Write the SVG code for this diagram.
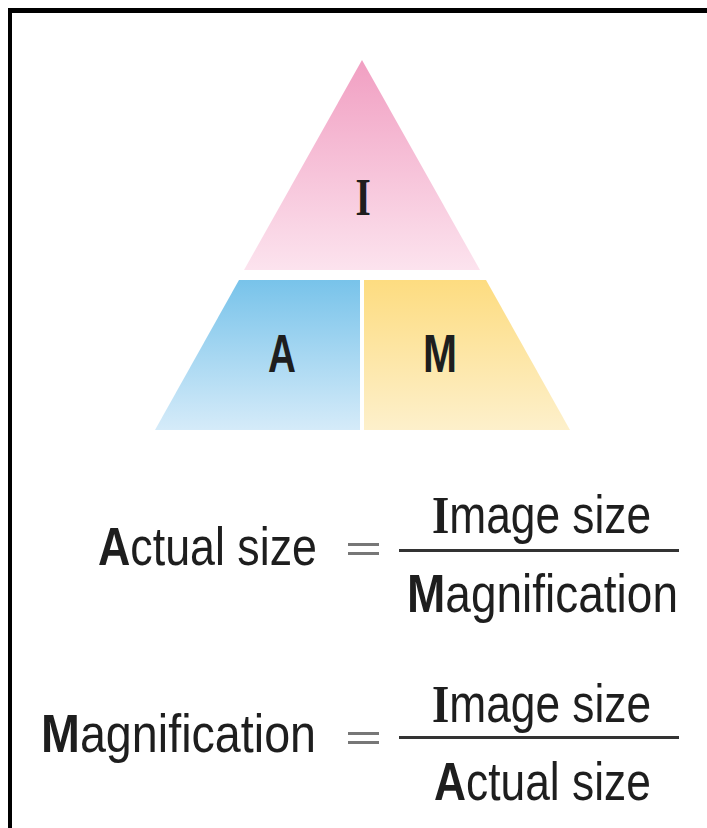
<svg xmlns="http://www.w3.org/2000/svg" width="707" height="828" viewBox="0 0 707 828">
<style>
.t{font-family:"Liberation Sans",Arial,sans-serif;font-size:53px;fill:#1e1e1e}
.b{font-weight:bold}
.s{font-family:"Liberation Serif","Times New Roman",serif;font-weight:bold}
.eq{fill:#777}
</style>
<defs>
<linearGradient id="gp" x1="0" y1="0" x2="0" y2="1"><stop offset="0" stop-color="#f19fc2"/><stop offset="1" stop-color="#fce3ee"/></linearGradient>
<linearGradient id="gb" x1="0" y1="0" x2="0" y2="1"><stop offset="0" stop-color="#78c3ea"/><stop offset="1" stop-color="#d5ebf9"/></linearGradient>
<linearGradient id="gy" x1="0" y1="0" x2="0" y2="1"><stop offset="0" stop-color="#fddc80"/><stop offset="1" stop-color="#fdf0cb"/></linearGradient>
</defs>
<rect width="707" height="828" fill="#fff"/>
<rect x="8" y="8" width="699" height="5" fill="#000"/>
<rect x="8" y="8" width="4" height="820" fill="#000"/>
<g id="node-I">
<polygon points="362,60 480,270 244,270" fill="url(#gp)"/>
<text class="t s" transform="translate(355.5,215) scale(0.74,1)" font-size="45">I</text>
</g>
<g id="node-A">
<polygon points="239,280 360,280 360,430 155,430" fill="url(#gb)"/>
<text class="t b" transform="translate(268,372) scale(0.73,1)">A</text>
</g>
<g id="node-M">
<polygon points="364,280 486,280 570,430 364,430" fill="url(#gy)"/>
<text class="t b" transform="translate(423,372) scale(0.77,1)">M</text>
</g>
<g id="formula-1">
<text class="t" transform="translate(98,565) scale(0.845,1)"><tspan class="b">A</tspan>ctual size</text>
<rect class="eq" x="348" y="543" width="31" height="3"/>
<rect class="eq" x="348" y="552" width="31" height="3"/>
<text class="t" transform="translate(432,533) scale(0.836,1)"><tspan class="s">I</tspan>mage size</text>
<rect x="399" y="549" width="280" height="3" fill="#333"/>
<text class="t" transform="translate(407,612) scale(0.868,1)"><tspan class="b">M</tspan>agnification</text>
</g>
<g id="formula-2">
<text class="t" transform="translate(41,752) scale(0.881,1)"><tspan class="b">M</tspan>agnification</text>
<rect class="eq" x="348" y="732" width="31" height="3"/>
<rect class="eq" x="348" y="741" width="31" height="3"/>
<text class="t" transform="translate(432,722) scale(0.836,1)"><tspan class="s">I</tspan>mage size</text>
<rect x="399" y="736" width="280" height="3" fill="#333"/>
<text class="t" transform="translate(434,800) scale(0.837,1)"><tspan class="b">A</tspan>ctual size</text>
</g>
</svg>
